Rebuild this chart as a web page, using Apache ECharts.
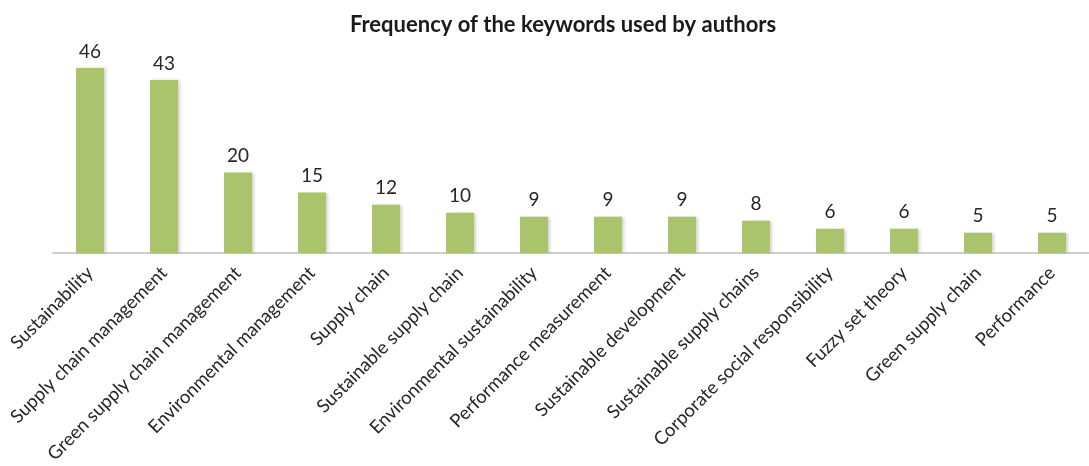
<!DOCTYPE html>
<html>
<head>
<meta charset="utf-8">
<script src="https://cdn.jsdelivr.net/npm/echarts@6/dist/echarts.min.js"></script>
<style>html,body{margin:0;padding:0;background:#fff;}#c{width:1089px;height:466px;}</style>
</head>
<body>
<div id="c"></div>
<script>
const titleText = "Frequency of the keywords used by authors";
const categories = ["Sustainability","Supply chain management","Green supply chain management","Environmental management","Supply chain","Sustainable supply chain","Environmental sustainability","Performance measurement","Sustainable development","Sustainable supply chains","Corporate social responsibility","Fuzzy set theory","Green supply chain","Performance"];
const counts = [46,43,20,15,12,10,9,9,9,8,6,6,5,5];

const chart = echarts.init(document.getElementById('c'), null, {renderer:'canvas'});
chart.setOption({
  animation:false,
  backgroundColor:'#fff',
  title:{text:titleText,left:558,textAlign:'center',top:9,textStyle:{fontFamily:'Lato',fontWeight:'bold',fontSize:22,color:'#1a1a1a'}},
  grid:{left:53,top:52,width:1047,height:203,containLabel:false},
  xAxis:{type:'category',data:categories,
    axisLine:{lineStyle:{color:'#bfbfbf',width:1.5}},
    axisTick:{show:false},
    axisLabel:{rotate:45,interval:0,margin:17,fontFamily:'Lato',fontSize:18.5,color:'#262626'}},
  yAxis:{type:'value',min:0,max:50,show:false,splitLine:{show:false}},
  series:[{type:'bar',data:counts,barWidth:28,
    itemStyle:{color:'#a9c46c',shadowColor:'rgba(0,0,0,0.18)',shadowBlur:3,shadowOffsetX:2,shadowOffsetY:0},
    label:{show:true,position:'top',distance:7,fontFamily:'Lato',fontSize:19,color:'#262626'}}]
});
</script>
</body>
</html>
